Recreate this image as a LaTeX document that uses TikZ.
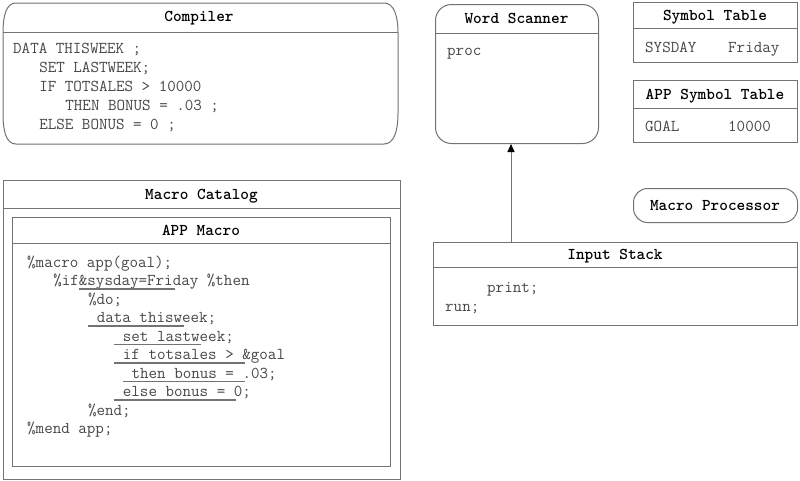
\documentclass[tikz,border=0pt]{standalone}
\usepackage{fontspec}
\usetikzlibrary{arrows.meta}
\definecolor{linegray}{gray}{0.45}
\definecolor{textgray}{gray}{0.28}
\tikzset{
 frame/.style={draw=linegray, line width=1pt, inner sep=0pt, anchor=north west},
 sepline/.style={draw=linegray, line width=1pt},
 ttl/.style={font=\ttfamily\bfseries\fontsize{16.5}{19}\selectfont, text=black, anchor=base, inner sep=0pt},
 txt/.style={font=\ttfamily\fontsize{16.57}{19}\selectfont, text=textgray, anchor=base west, inner sep=0pt},
 ul/.style={draw=linegray, line width=1.6pt},
}
\begin{document}
\begin{tikzpicture}[x=1pt,y=-1pt]
\useasboundingbox[fill=white] (0,0) rectangle (800,480);

% ---------- Compiler ----------
\node[inner sep=0pt, minimum width=395pt, minimum height=142pt, anchor=north west] (compiler) at (3,3) {};
\draw[sepline] (16,3) -- (384,3) .. controls (394,3) and (398,16) .. (398,33) -- (398,113)
  .. controls (398,131) and (394,144) .. (384,144) -- (16,144)
  .. controls (6,144) and (3,131) .. (3,113) -- (3,33) .. controls (3,16) and (6,3) .. (16,3) -- cycle;
\draw[sepline] (3,32) -- (398,32);
\node[ttl] (compilerT) at (199,21) {Compiler};
\node[txt] (c1) at (13,53) {DATA THISWEEK ;};
\node[txt] (c2) at (39.1,72) {SET LASTWEEK;};
\node[txt] (c3) at (39.1,91) {IF TOTSALES > 10000};
\node[txt] (c4) at (65.2,110) {THEN BONUS = .03 ;};
\node[txt] (c5) at (39.1,129) {ELSE BONUS = 0 ;};

% ---------- Word Scanner ----------
\node[frame, rounded corners=16pt, minimum width=163pt, minimum height=139pt] (scanner) at (435,4) {};
\draw[sepline] (435,33) -- (598,33);
\node[ttl] (scannerT) at (516.5,23) {Word Scanner};
\node[txt] (proc) at (447,55) {proc};

% ---------- Symbol Table ----------
\node[frame, minimum width=164pt, minimum height=60pt] (symtab) at (633,2) {};
\draw[sepline] (633,28) -- (797,28);
\node[ttl] (symtabT) at (715,20) {Symbol Table};
\node[txt] (sysday) at (645,52) {SYSDAY};
\node[txt] (friday) at (728,52) {Friday};

% ---------- APP Symbol Table ----------
\node[frame, minimum width=164pt, minimum height=62pt] (appsym) at (633,80) {};
\draw[sepline] (633,108) -- (797,108);
\node[ttl] (appsymT) at (715,99) {APP Symbol Table};
\node[txt] (goal) at (645,131) {GOAL};
\node[txt] (goalv) at (728,131) {10000};

% ---------- Macro Processor ----------
\node[frame, rounded corners=14pt, minimum width=164pt, minimum height=34pt] (mproc) at (633,188) {};
\node[ttl] (mprocT) at (715,210) {Macro Processor};

% ---------- Input Stack ----------
\node[frame, minimum width=364pt, minimum height=83pt] (stack) at (433,242) {};
\draw[sepline] (433,267) -- (797,267);
\node[ttl] (stackT) at (615,259) {Input Stack};
\node[txt] (print) at (487,292) {print;};
\node[txt] (run) at (445,311) {run;};

\coordinate (arrx) at (511,0);
\draw[sepline, -{Triangle[width=7pt,length=8pt,color=black,fill=black]}] (arrx |- stack.north) -- (arrx |- scanner.south);

% ---------- Macro Catalog ----------
\node[frame, minimum width=397pt, minimum height=299pt] (catalog) at (3,180) {};
\draw[sepline] (3,208) -- (400,208);
\node[ttl] (catalogT) at (201.5,199) {Macro Catalog};

\node[frame, minimum width=378pt, minimum height=249pt] (appmac) at (12,217) {};
\draw[sepline] (12,243) -- (390,243);
\node[ttl] (appmacT) at (201,235) {APP Macro};

\node[txt] (m0) at (27,267) {\%macro app(goal);};
\node[txt] (m1) at (53.1,285.5) {\%if\&sysday=Friday \%then};
\node[txt] (m2) at (87.9,304) {\%do;};
\node[txt] (m3) at (96.6,322.5) {data thisweek;};
\node[txt] (m4) at (122.7,341) {set lastweek;};
\node[txt] (m5) at (122.7,359.5) {if totsales > \&goal};
\node[txt] (m6) at (131.4,378) {then bonus = .03;};
\node[txt] (m7) at (122.7,396.5) {else bonus = 0;};
\node[txt] (m8) at (87.9,415) {\%end;};
\node[txt] (m9) at (27,433.5) {\%mend app;};

\draw[ul] (79.2,289) -- (174.9,289);
\draw[ul] (87.9,326) -- (183.6,326);
\draw[ul] (114,344.5) -- (201,344.5);
\draw[ul] (114,363) -- (244.5,363);
\draw[ul] (122.7,381.5) -- (244.5,381.5);
\draw[ul] (114,400) -- (235.8,400);
\end{tikzpicture}
\end{document}
